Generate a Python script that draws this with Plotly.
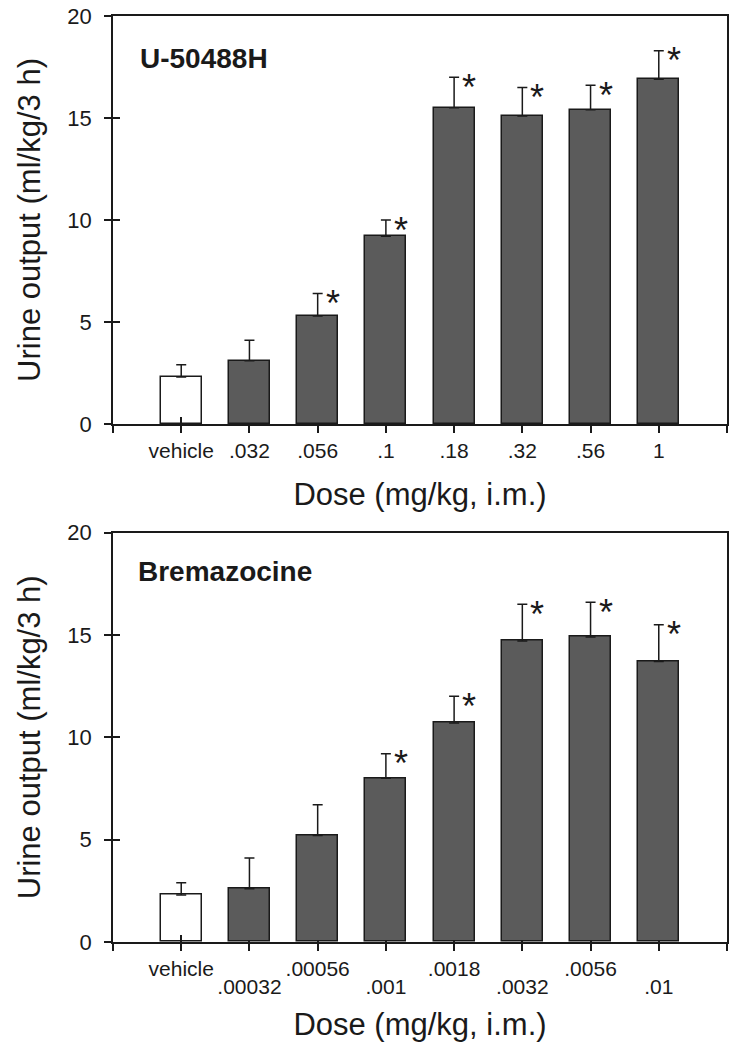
import plotly.graph_objects as go

# ---------------- data ----------------
top_labels = ["vehicle", ".032", ".056", ".1", ".18", ".32", ".56", "1"]
top_mean = [2.3, 3.1, 5.3, 9.2, 15.5, 15.1, 15.4, 16.9]
top_err = [0.6, 1.0, 1.1, 0.8, 1.5, 1.4, 1.2, 1.4]
top_sig = [False, False, True, True, True, True, True, True]

bot_labels = ["vehicle", ".00032", ".00056", ".001", ".0018", ".0032", ".0056", ".01"]
bot_mean = [2.3, 2.6, 5.2, 8.0, 10.7, 14.7, 14.9, 13.7]
bot_err = [0.6, 1.5, 1.5, 1.2, 1.3, 1.8, 1.7, 1.8]
bot_sig = [False, False, False, True, True, True, True, True]

y_ticks = [0, 5, 10, 15, 20]
top_name = "U-50488H"
bot_name = "Bremazocine"
x_title = "Dose (mg/kg, i.m.)"
y_title = "Urine output (ml/kg/3 h)"

# ---------------- style ----------------
FONT = "Liberation Sans, Arial, sans-serif"
INK = "#1a1a1a"
DARK = "#5b5b5b"
LW = 1.5

n = len(top_labels)
xs = list(range(1, n + 1))
tickpos = list(range(0, n + 2))

fig = go.Figure()


def add_panel(means, errs, xaxis, yaxis):
    colors = ["rgba(255,255,255,0)"] + [DARK] * (len(means) - 1)
    fig.add_trace(go.Bar(
        x=xs, y=means, width=0.6,
        marker=dict(color=colors, line=dict(color=INK, width=LW)),
        error_y=dict(type="data", array=errs, arrayminus=[0] * len(errs),
                     symmetric=False, color=INK, thickness=LW, width=5),
        xaxis=xaxis, yaxis=yaxis, showlegend=False, hoverinfo="skip",
    ))


add_panel(top_mean, top_err, "x", "y")
add_panel(bot_mean, bot_err, "x2", "y2")

# empty traces so the overlay axes (crossing ticks, second label row) get drawn
for xa, ya in [("x3", "y"), ("x", "y3"), ("x4", "y2"), ("x2", "y4")]:
    fig.add_trace(go.Scatter(x=[], y=[], xaxis=xa, yaxis=ya, showlegend=False,
                             hoverinfo="skip", mode="markers"))

# asterisks
AST = dict(family=FONT, size=36, color=INK)
for i, (m, e, s) in enumerate(zip(top_mean, top_err, top_sig)):
    if s:
        fig.add_annotation(x=xs[i] + 0.22, y=m + e, xref="x", yref="y",
                           text="*", showarrow=False, yshift=-10, font=AST)
for i, (m, e, s) in enumerate(zip(bot_mean, bot_err, bot_sig)):
    if s:
        fig.add_annotation(x=xs[i] + 0.22, y=m + e, xref="x2", yref="y2",
                           text="*", showarrow=False, yshift=-10, font=AST)

# panel labels
fig.add_annotation(x=0.37, y=17.9, xref="x", yref="y", text="<b>%s</b>" % top_name,
                   showarrow=False, xanchor="left", yanchor="middle",
                   font=dict(family=FONT, size=28, color=INK))
fig.add_annotation(x=0.34, y=18.1, xref="x2", yref="y2", text="<b>%s</b>" % bot_name,
                   showarrow=False, xanchor="left", yanchor="middle",
                   font=dict(family=FONT, size=28, color=INK))

tickfont = dict(family=FONT, size=21, color=INK)
titlefont = dict(family=FONT, size=31, color=INK)

common_x = dict(range=[0, n + 1], tickmode="array", tickvals=tickpos,
                ticks="outside", ticklen=7, tickwidth=LW, tickcolor=INK,
                showline=True, linecolor=INK, linewidth=LW, mirror=True,
                showgrid=False, zeroline=False, tickfont=tickfont, automargin=False)
common_y = dict(range=[0, 20], tickmode="array", tickvals=y_ticks,
                ticks="outside", ticklen=7, tickwidth=LW, tickcolor=INK,
                showline=True, linecolor=INK, linewidth=LW, mirror=True,
                showgrid=False, zeroline=False, automargin=False,
                tickfont=dict(family=FONT, size=22, color=INK), ticklabelstandoff=8,
                title=dict(text=y_title, font=titlefont, standoff=18))

top_text = [""] + top_labels + [""]
bot_upper = [""] + [lab if i % 2 == 0 else "" for i, lab in enumerate(bot_labels)] + [""]
bot_lower = [""] + [lab if i % 2 == 1 else "" for i, lab in enumerate(bot_labels)] + [""]

inside_x = dict(range=[0, n + 1], tickmode="array", tickvals=tickpos,
                ticks="inside", ticklen=7, tickwidth=LW, tickcolor=INK,
                showline=False, showgrid=False, zeroline=False,
                layer="below traces", automargin=False)
inside_y = dict(range=[0, 20], tickmode="array", tickvals=y_ticks,
                ticks="inside", ticklen=7, tickwidth=LW, tickcolor=INK,
                showline=False, showgrid=False, zeroline=False, showticklabels=False,
                layer="below traces", automargin=False)

TOP_DOM = [0.5594, 1.0]
BOT_DOM = [0.0, 0.4421]

fig.update_layout(
    width=730, height=1050,
    margin=dict(l=113, r=3, t=16, b=108),
    paper_bgcolor="white", plot_bgcolor="rgba(0,0,0,0)",
    font=dict(family=FONT, color=INK),
    bargap=0,
    xaxis=dict(common_x, domain=[0, 1], anchor="y", ticktext=top_text,
               title=dict(text=x_title, font=titlefont, standoff=22)),
    yaxis=dict(common_y, domain=TOP_DOM, anchor="x"),
    xaxis2=dict(common_x, domain=[0, 1], anchor="y2", ticktext=bot_upper,
                title=dict(text=x_title, font=titlefont, standoff=34)),
    yaxis2=dict(common_y, domain=BOT_DOM, anchor="x2"),
    xaxis3=dict(inside_x, overlaying="x", anchor="y", showticklabels=False),
    yaxis3=dict(inside_y, overlaying="y", anchor="x"),
    xaxis4=dict(inside_x, overlaying="x2", anchor="y2", ticktext=bot_lower,
                showticklabels=True, tickfont=tickfont, ticklabelstandoff=30),
    yaxis4=dict(inside_y, overlaying="y2", anchor="x2"),
)

fig.write_html("out.html", config={"displayModeBar": False},
               post_script="document.body.style.margin='0';")
